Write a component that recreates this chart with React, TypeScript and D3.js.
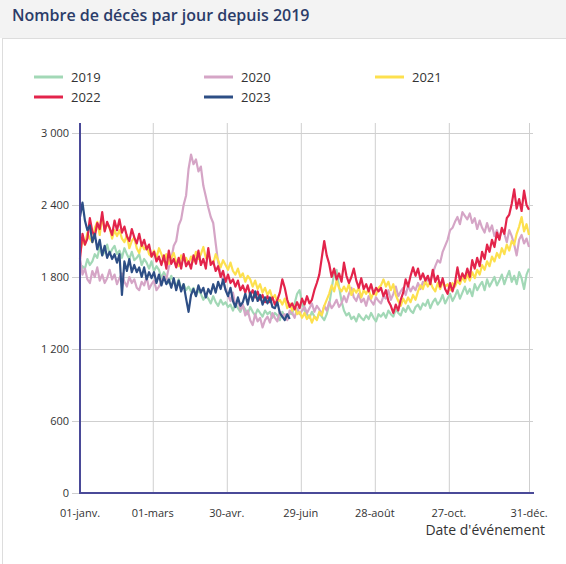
import React from "react";
import * as d3 from "d3";

const years = ["2019", "2020", "2021", "2022", "2023"];
const colors = ["#a2d8b6", "#d5a5c6", "#fde04e", "#e3244b", "#2d4e85"];
const STEP = 2;

const s2019 = [
  1840, 1890, 1870, 1950, 1900, 1930, 1990, 1960, 2050, 1980, 2010, 2070, 1990, 2030, 2060, 1990,
  2020, 1960, 2040, 1990, 1950, 2010, 1940, 1960, 1990, 1900, 1950, 1920, 1870, 1930,
  1850, 1890, 1860, 1790, 1840, 1800, 1750, 1810, 1760, 1720, 1780, 1700, 1740, 1690, 1720,
  1680, 1710, 1640, 1690, 1660, 1610, 1650, 1620, 1580, 1640, 1590, 1560, 1610, 1570, 1590,
  1550, 1570, 1520, 1580, 1540, 1510, 1560, 1530, 1490, 1550, 1510, 1480, 1530, 1500, 1470, 1520,
  1490, 1510, 1460, 1500, 1480, 1440, 1510, 1470, 1450, 1500, 1490, 1580, 1660, 1690, 1590,
  1520, 1490, 1460, 1510, 1470, 1450, 1500, 1470, 1440, 1490, 1570, 1700, 1830, 1860, 1720,
  1600, 1520, 1480, 1500, 1450, 1470, 1430, 1490, 1460, 1440, 1480, 1450, 1500, 1460, 1430, 1490,
  1470, 1500, 1460, 1520, 1490, 1470, 1530, 1500, 1480, 1540, 1510, 1560, 1520, 1500, 1550,
  1570, 1530, 1580, 1560, 1610, 1540, 1590, 1620, 1570, 1600, 1650, 1580, 1620, 1660, 1600,
  1640, 1690, 1620, 1670, 1720, 1660, 1700, 1640, 1740, 1690, 1730, 1760, 1690, 1780, 1720,
  1760, 1800, 1730, 1770, 1820, 1740, 1800, 1850, 1760, 1810, 1740, 1840, 1790, 1700, 1820, 1870,
];
const s2020 = [
  1960, 1820, 1870, 1780, 1750, 1850, 1800, 1880, 1770, 1820, 1750, 1790, 1860, 1780, 1820, 1740,
  1790, 1830, 1760, 1720, 1800, 1750, 1780, 1710, 1690, 1760, 1730, 1800, 1700, 1740,
  1770, 1690, 1720, 1760, 1810, 1780, 1880, 1950, 2060, 2100, 2230, 2280, 2400, 2480, 2700,
  2820, 2740, 2780, 2680, 2720, 2560, 2470, 2380, 2300, 2250, 2080, 1920, 1830, 1760, 1700,
  1650, 1600, 1670, 1560, 1610, 1530, 1570, 1480, 1520, 1440, 1400, 1490, 1430, 1460, 1380, 1440,
  1470, 1420, 1500, 1460, 1430, 1510, 1470, 1490, 1440, 1520, 1500, 1460, 1540, 1490, 1520,
  1550, 1500, 1540, 1580, 1510, 1560, 1530, 1490, 1560, 1520, 1590, 1540, 1570, 1610, 1550,
  1580, 1640, 1590, 1660, 1710, 1630, 1600, 1660, 1590, 1620, 1560, 1640, 1600, 1570, 1630, 1600,
  1580, 1640, 1620, 1690, 1610, 1660, 1720, 1640, 1680, 1710, 1650, 1730, 1680, 1720, 1690,
  1750, 1700, 1760, 1740, 1790, 1770, 1830, 1890, 1940, 1920, 2010, 2060, 2110, 2190, 2210,
  2260, 2300, 2240, 2340, 2310, 2280, 2330, 2250, 2290, 2200, 2270, 2210, 2170, 2250, 2180,
  2230, 2140, 2190, 2120, 2200, 2160, 2090, 2190, 2140, 2070, 1980, 2110, 2150, 2080, 2120, 2050,
];
const s2021 = [
  2000, 2110, 2070, 2170, 2120, 2090, 2210, 2260, 2150, 2310, 2190, 2240, 2210, 2120, 2190, 2140,
  2190, 2120, 2090, 2150, 2040, 2100, 2130, 2040, 2000, 2080, 2030, 2060, 1990, 1970,
  2020, 1960, 2040, 1990, 1930, 1990, 1910, 1960, 2000, 1920, 1890, 1980, 1940, 1960, 1910,
  1970, 1930, 2010, 1950, 1990, 2050, 1960, 1990, 1930, 1910, 1990, 1940, 1880, 1940, 1900,
  1860, 1920, 1850, 1820, 1870, 1800, 1830, 1760, 1810, 1780, 1720, 1770, 1700, 1740, 1670, 1710,
  1650, 1690, 1620, 1650, 1590, 1610, 1570, 1620, 1540, 1580, 1520, 1560, 1490, 1510, 1460,
  1500, 1450, 1480, 1420, 1470, 1440, 1510, 1480, 1560, 1610, 1660, 1730, 1680, 1770, 1710,
  1680, 1720, 1680, 1740, 1650, 1700, 1670, 1710, 1630, 1690, 1660, 1700, 1620, 1670, 1650, 1710,
  1730, 1780, 1720, 1760, 1690, 1740, 1650, 1600, 1560, 1620, 1580, 1630, 1590, 1650, 1610,
  1680, 1730, 1700, 1770, 1720, 1760, 1710, 1680, 1750, 1700, 1760, 1720, 1740, 1690, 1750,
  1720, 1770, 1740, 1800, 1760, 1820, 1770, 1840, 1790, 1860, 1820, 1900, 1860, 1930, 1890,
  1970, 1930, 2000, 1960, 2040, 1990, 2070, 2020, 2100, 2070, 2160, 2220, 2300, 2180, 2240, 2150,
];
const s2022 = [
  1950, 2160, 2070, 2120, 2290, 2180, 2140, 2250, 2200, 2340, 2180, 2260, 2210, 2150, 2270, 2190,
  2280, 2170, 2220, 2140, 2100, 2200, 2130, 2080, 2160, 2060, 2110, 2030, 2070, 1970,
  2010, 1930, 1970, 1900, 1980, 1870, 2020, 1910, 1950, 1880, 1960, 1870, 1990, 1890, 1930,
  1870, 1980, 1910, 2020, 1900, 1950, 1870, 2040, 1900, 1930, 1850, 1890, 1800, 1850, 1760,
  1820, 1750, 1780, 1720, 1770, 1690, 1730, 1670, 1730, 1650, 1690, 1630, 1680, 1610, 1650, 1590,
  1640, 1590, 1630, 1570, 1610, 1670, 1780, 1710, 1610, 1550, 1580, 1530, 1590, 1540, 1620,
  1570, 1640, 1580, 1610, 1690, 1750, 1820, 1960, 2100, 1980, 1910, 1800, 1870, 1780, 1830,
  1760, 1920, 1810, 1750, 1800, 1870, 1770, 1710, 1790, 1700, 1740, 1680, 1740, 1660, 1710, 1680,
  1710, 1640, 1690, 1600, 1560, 1500, 1570, 1520, 1610, 1670, 1780, 1720, 1810, 1880, 1810,
  1870, 1780, 1830, 1770, 1810, 1740, 1860, 1760, 1810, 1720, 1790, 1700, 1660, 1750, 1680,
  1750, 1880, 1770, 1830, 1790, 1870, 1800, 1940, 1870, 1960, 1890, 2010, 1950, 2070, 2010,
  2110, 2050, 2170, 2110, 2210, 2160, 2290, 2320, 2410, 2530, 2370, 2450, 2350, 2520, 2400, 2360,
];
const s2023 = [
  2300, 2420, 2270, 2190, 2230, 2090, 2160, 2030, 2110, 1980, 2060, 1960, 2010, 1950, 1990, 1920,
  1990, 1650, 1930, 1850, 1950, 1840, 1900, 1840, 1880, 1800, 1880, 1780, 1840, 1790,
  1840, 1750, 1820, 1730, 1800, 1740, 1780, 1710, 1790, 1690, 1770, 1680, 1740, 1620, 1510,
  1650, 1700, 1640, 1730, 1670, 1710, 1630, 1700, 1660, 1740, 1670, 1760, 1700, 1780, 1690,
  1640, 1710, 1600, 1550, 1630, 1560, 1590, 1660, 1570, 1670, 1600, 1680, 1600, 1650, 1570, 1630,
  1580, 1630, 1550, 1540, 1590, 1500, 1470, 1440, 1490, 1450,
];
const series = [s2019, s2020, s2021, s2022, s2023];

const yTicks = [0, 600, 1200, 1800, 2400, 3000];
const xTickDays = [0, 59, 119, 179, 239, 299, 364];
const xTickLabels = ["01-janv.", "01-mars", "30-avr.", "29-juin", "28-août", "27-oct.", "31-déc."];

const fmt = (v: number) =>
  v >= 1000 ? `${Math.floor(v / 1000)} ${String(v % 1000).padStart(3, "0")}` : String(v);

export default function App() {
  const W = 566, H = 564;
  const x = d3.scaleLinear().domain([0, 364]).range([80, 529]);
  const y = d3.scaleLinear().domain([0, 3000]).range([493, 133]);
  const line = d3
    .line<number>()
    .x((_, i) => x(i * STEP))
    .y((d) => y(d));
  const font = "'Open Sans', 'Noto Sans', sans-serif";
  const legendX = [34, 204, 375];
  const legendY = [77, 97];
  return (
    <div style={{ position: "absolute", left: 0, top: 0, width: W, height: H, background: "#fff" }}>
      <svg width={W} height={H} style={{ display: "block" }} fontFamily={font}>
        <rect x={0} y={0} width={W} height={38} fill="#f3f3f3" />
        <line x1={2} x2={W} y1={38.5} y2={38.5} stroke="#dddddd" />
        <line x1={2.5} x2={2.5} y1={38} y2={H} stroke="#dddddd" />
        <text x={12} y={21} fontSize={16} fontWeight={600} fill="#2b3c69">
          Nombre de décès par jour depuis 2019
        </text>
        {years.map((yr, i) => {
          const lx = legendX[i % 3];
          const ly = legendY[Math.floor(i / 3)];
          return (
            <g key={yr}>
              <line x1={lx} x2={lx + 29} y1={ly} y2={ly} stroke={colors[i]} strokeWidth={3} />
              <text x={lx + 37} y={ly} dy="0.35em" fontSize={13} fill="#333">
                {yr}
              </text>
            </g>
          );
        })}
        {yTicks.filter((t) => t > 0).map((t) => (
          <line key={"gy" + t} x1={72} x2={533} y1={y(t) + 0.5} y2={y(t) + 0.5} stroke="#cfcfcf" />
        ))}
        {xTickDays.slice(1).map((d) => (
          <line key={"gx" + d} x1={x(d) + 0.5} x2={x(d) + 0.5} y1={123} y2={493} stroke="#cfcfcf" />
        ))}
        {yTicks.map((t) => (
          <text key={"ty" + t} x={69} y={y(t)} dy="0.35em" textAnchor="end" fontSize={11} fill="#333">
            {fmt(t)}
          </text>
        ))}
        <line x1={72} x2={80} y1={y(0) + 0.5} y2={y(0) + 0.5} stroke="#cfcfcf" />
        {xTickDays.map((d, i) => (
          <text key={"tx" + d} x={x(d)} y={517} textAnchor="middle" fontSize={11} fill="#333">
            {xTickLabels[i]}
          </text>
        ))}
        <text x={545} y={535} textAnchor="end" fontSize={14} fill="#333">
          Date d'événement
        </text>
        {series.map((s, i) => (
          <path
            key={years[i]}
            d={line(s) || ""}
            fill="none"
            stroke={colors[i]}
            strokeWidth={2.2}
            strokeLinejoin="round"
          />
        ))}
        <line x1={80} x2={80} y1={123} y2={494} stroke="#4a4a98" strokeWidth={2} />
        <line x1={79} x2={534} y1={493} y2={493} stroke="#4a4a98" strokeWidth={2} />
      </svg>
    </div>
  );
}
